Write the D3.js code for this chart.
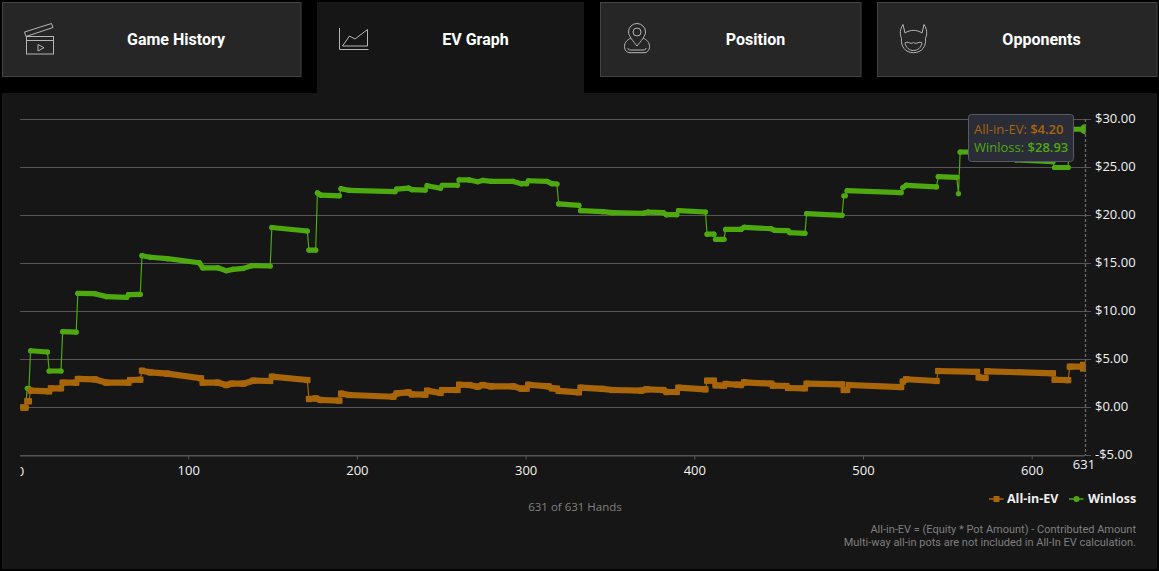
<!DOCTYPE html>
<html>
<head>
<meta charset="utf-8">
<title>EV Graph</title>
<script src="https://cdn.jsdelivr.net/npm/d3@7"></script>
<style>
  html, body { margin: 0; padding: 0; background: #000; overflow: hidden; }
  svg { display: block; }
  text { font-family: "Open Sans", sans-serif; }
  .tab-label { font-family: Roboto, sans-serif; font-weight: 700; font-size: 16px; fill: #fff; text-anchor: middle; }
  .note { font-family: Roboto, sans-serif; font-size: 11px; fill: #7f7f7f; text-anchor: end; }
  .icon { fill: none; stroke: #b5b5b5; stroke-width: 1; }
</style>
</head>
<body>
<script>
const w = 1159;
const h = 571;

const tabNames = ["Game History", "EV Graph", "Position", "Opponents"];
const seriesNames = ["All-in-EV", "Winloss"];
const xTicks = [100, 200, 300, 400, 500, 600];
const yTicks = [-5, 0, 5, 10, 15, 20, 25, 30];
const totalHands = 631;

const winlossHands = [0, 3, 4, 5, 6, 16, 17, 24, 25, 33, 34, 44, 51, 63, 64, 71, 72, 77, 87, 106, 108, 117, 122, 126, 132, 137, 148,
  149, 170, 171, 175, 176, 178, 189, 190, 195, 222, 223, 230, 232, 240, 241, 249, 250, 259, 260, 266, 271, 274, 279, 292, 297, 300,
  301, 312, 315, 318, 319, 331, 332, 345, 351, 369, 372, 381, 383, 389, 390, 406, 407, 411, 412, 417, 418, 427, 429, 445, 447, 455,
  456, 465, 466, 487, 488, 489, 490, 522, 523, 525, 543, 544, 555, 556, 557, 563, 590, 612, 613, 621, 622, 631];
const winlossValues = [0, 0, 1.95, 1.95, 5.86, 5.73, 3.75, 3.75, 7.85, 7.8, 11.84, 11.8, 11.5, 11.42, 11.7, 11.74, 15.76, 15.6, 15.45, 15.03, 14.5, 14.5, 14.2, 14.34, 14.44, 14.72, 14.69,
  18.7, 18.33, 16.35, 16.35, 22.3, 22.08, 22.0, 22.74, 22.57, 22.43, 22.7, 22.8, 22.64, 22.6, 23.05, 22.78, 23.1, 23.1, 23.65, 23.65, 23.47, 23.6, 23.5, 23.5, 23.26, 23.26,
  23.57, 23.5, 23.26, 23.23, 21.15, 21.0, 20.45, 20.35, 20.24, 20.18, 20.3, 20.24, 20.03, 20.03, 20.45, 20.31, 18.0, 18.0, 17.47, 17.47, 18.5, 18.5, 18.72, 18.57, 18.4, 18.37,
  18.16, 18.09, 20.14, 19.97, 22.0, 22.0, 22.53, 22.33, 22.84, 23.09, 22.92, 23.99, 23.92, 22.22, 26.56, 26.56, 25.75, 25.55, 24.95, 24.95, 28.93, 28.93];

const evHands = [0, 3, 4, 5, 6, 17, 18, 24, 25, 33, 34, 44, 51, 64, 65, 71, 72, 77, 87, 107, 108, 117, 122, 125, 132, 138, 148,
  149, 170, 171, 175, 178, 189, 190, 195, 221, 223, 230, 232, 240, 241, 249, 250, 259, 260, 266, 271, 274, 279, 292, 297, 300,
  301, 313, 315, 318, 319, 331, 332, 345, 351, 368, 371, 381, 383, 389, 390, 406, 407, 411, 412, 417, 418, 425, 427, 429, 445, 446, 454,
  455, 465, 466, 487, 488, 490, 491, 522, 523, 525, 543, 544, 567, 568, 572, 573, 612, 613, 621, 622, 631];
const evValues = [-0.07, -0.07, 0.6, 0.6, 1.7, 1.63, 1.95, 1.95, 2.53, 2.53, 2.92, 2.88, 2.53, 2.53, 2.81, 2.84, 3.78, 3.61, 3.47, 2.99, 2.53, 2.53, 2.29, 2.43, 2.43, 2.74, 2.71,
  3.16, 2.81, 0.83, 0.9, 0.73, 0.66, 1.39, 1.25, 1.07, 1.42, 1.53, 1.32, 1.28, 1.7, 1.46, 1.77, 1.77, 2.32, 2.29, 2.11, 2.29, 2.15, 2.15, 1.91, 1.91,
  2.32, 2.15, 1.95, 1.91, 1.67, 1.53, 2.01, 1.88, 1.77, 1.7, 1.84, 1.77, 1.56, 1.56, 2.01, 1.84, 2.74, 2.74, 2.26, 2.22, 2.4, 2.32, 2.29, 2.57, 2.43, 2.22, 2.19,
  1.98, 1.95, 2.43, 2.36, 1.77, 1.77, 2.29, 2.08, 2.64, 2.89, 2.71, 3.75, 3.65, 3.09, 3.02, 3.72, 3.51, 2.84, 2.8, 4.2, 4.2];

const evColor = "#a8650a";
const winColor = "#4ea90f";
const money = v => (v < 0 ? "-$" : "$") + Math.abs(v).toFixed(2);

const svg = d3.select("body").append("svg").attr("width", w).attr("height", h);

// main panel + tabs
svg.append("rect").attr("x", 2).attr("y", 93).attr("width", 1155).attr("height", 476).attr("fill", "#161616");

const tabs = [
  { x: 2, w: 298.5, cx: 176, active: false },
  { x: 317, w: 267, cx: 475.5, active: true },
  { x: 600, w: 260.5, cx: 755.5, active: false },
  { x: 877, w: 279.5, cx: 1041.5, active: false }
];
tabs.forEach((t, i) => {
  svg.append("rect")
    .attr("x", t.active ? t.x : t.x + 0.5).attr("y", t.active ? 2 : 2.5)
    .attr("width", t.w).attr("height", t.active ? 91 : 74)
    .attr("fill", t.active ? "#161616" : "#262626")
    .attr("stroke", t.active ? "none" : "#444");
  svg.append("text").attr("class", "tab-label").attr("x", t.cx).attr("y", 45).text(tabNames[i]);
});

// tab icons
const clapper = svg.append("g").attr("class", "icon");
clapper.append("path").attr("d", "M24.5 32L51.5 23.5L53 27.5L26 36.5Z");
clapper.append("rect").attr("x", 26.5).attr("y", 36.5).attr("width", 27).attr("height", 17.5);
clapper.append("path").attr("d", "M26 40.5H53.5M38 44.5V51L44 47.7Z");

svg.append("path").attr("class", "icon")
  .attr("d", "M339.5 28V49.5H368.5M342.5 46L349.5 36L355 39L367.5 29.5V46Z");

const pin = svg.append("g").attr("class", "icon");
pin.append("path").attr("d", "M637 46C633 41 628.5 36 628.5 32A8.5 8.5 0 0 1 645.5 32C645.5 36 641 41 637 46Z");
pin.append("circle").attr("cx", 637).attr("cy", 32).attr("r", 4);
pin.append("path").attr("d", "M631 38C627 40 624.5 42.5 624.5 46.5C624.5 50.5 627 52.7 630 52.7H644C647 52.7 649.5 50.5 649.5 46.5C649.5 42.5 647 40 643 38");
pin.append("path").attr("d", "M628 48C628 49.5 629 50 630 50H644C645 50 646 49.5 646 48");

const devil = svg.append("g").attr("class", "icon");
devil.append("path").attr("d", "M905 33L903 24.5C900 29 899.5 34 901.5 38.5C900.5 46 905 52.7 913.5 52.7C922 52.7 926.5 46 925.5 38.5C927.5 34 927 29 924 24.5L922 33C917 29.5 910 29.5 905 33Z");
devil.append("path").attr("d", "M905 43C908 40.5 910 45 913.5 42.5C917 45 919 40.5 922 43C921 48 917.5 50.5 913.5 50.5C909.5 50.5 906 48 905 43Z");

// scales
const x = d3.scaleLinear().domain([0, totalHands]).range([20.5, 1085]);
const y = d3.scaleLinear().domain([-5, 30]).range([455, 119]);

const chart = svg.append("g");

// grid and y labels
chart.selectAll(".grid").data(yTicks).enter().append("line")
  .attr("class", "grid")
  .attr("x1", 20).attr("x2", 1091)
  .attr("y1", d => Math.round(y(d)) + 0.5).attr("y2", d => Math.round(y(d)) + 0.5)
  .attr("stroke", "#555");

chart.selectAll(".ylabel").data(yTicks).enter().append("text")
  .attr("x", 1095).attr("y", d => y(d) + 3.5)
  .attr("fill", "#f2f2f2").attr("font-size", "13px")
  .text(money);

// x axis
const xAxis = d3.axisBottom(x).tickValues(xTicks).tickSize(4).tickSizeOuter(0);
const xg = chart.append("g").attr("transform", "translate(-1,455.5)").call(xAxis);
xg.select(".domain").attr("stroke", "#555");
xg.selectAll(".tick line").attr("stroke", "#555");
xg.selectAll(".tick text").attr("fill", "#f2f2f2").attr("font-size", "13px")
  .attr("font-family", "'Open Sans', sans-serif").attr("dy", "0.71em").attr("y", 10);

svg.append("clipPath").attr("id", "zero-clip").append("rect").attr("x", 20.5).attr("y", 455).attr("width", 30).attr("height", 30);
chart.append("text").attr("clip-path", "url(#zero-clip)")
  .attr("x", x(0)).attr("y", 476).attr("text-anchor", "middle")
  .attr("fill", "#f2f2f2").attr("font-size", "13px").text("0");
chart.append("text").attr("x", x(631) - 1).attr("y", 469).attr("text-anchor", "middle")
  .attr("fill", "#f2f2f2").attr("font-size", "13px").text(totalHands);

// series
svg.append("clipPath").attr("id", "plot-clip").append("rect").attr("x", 20.5).attr("y", 100).attr("width", 1065).attr("height", 355);
const plot = chart.append("g").attr("clip-path", "url(#plot-clip)");

function drawSeries(hands, values, color, thick, square) {
  const pts = hands.map((d, i) => [d, values[i]]);
  const line = d3.line().x(d => x(d[0])).y(d => y(d[1]));
  const g = plot.append("g");
  g.append("path").attr("d", line(pts)).attr("fill", "none").attr("stroke", color).attr("stroke-width", 1.2);
  // neighbouring hands sit so close the markers merge into a thick bar
  const runs = d3.pairs(pts).filter(p => p[1][0] - p[0][0] > 1);
  g.selectAll(".run").data(runs).enter().append("path")
    .attr("d", d => line(d)).attr("fill", "none").attr("stroke", color)
    .attr("stroke-width", thick).attr("stroke-linecap", "round");
  if (square) {
    g.selectAll(".mark").data(pts).enter().append("rect")
      .attr("x", d => x(d[0]) - thick / 2).attr("y", d => y(d[1]) - thick / 2)
      .attr("width", thick).attr("height", thick).attr("fill", color);
  } else {
    g.selectAll(".mark").data(pts).enter().append("circle")
      .attr("cx", d => x(d[0])).attr("cy", d => y(d[1])).attr("r", thick / 2).attr("fill", color);
  }
}

drawSeries(winlossHands, winlossValues, winColor, 5.2, false);
drawSeries(evHands, evValues, evColor, 6.2, true);

// hover state at the last hand
const lastWin = winlossValues[winlossValues.length - 1];
const lastEv = evValues[evValues.length - 1];
plot.append("circle").attr("cx", x(totalHands)).attr("cy", y(lastWin)).attr("r", 5).attr("fill", winColor);
plot.append("rect").attr("x", x(totalHands) - 5).attr("y", y(lastEv) - 5).attr("width", 10).attr("height", 10).attr("fill", evColor);

chart.append("line").attr("x1", x(totalHands) + 0.5).attr("x2", x(totalHands) + 0.5).attr("y1", 119).attr("y2", 455)
  .attr("stroke", "#6a6a6a").attr("stroke-width", 1.3).attr("stroke-dasharray", "3,2");

// tooltip
const tip = chart.append("g").attr("transform", "translate(968.5,114.5)");
tip.append("rect").attr("width", 105).attr("height", 47).attr("rx", 3)
  .attr("fill", "#2a2c38").attr("stroke", "#585a64");
const tip1 = tip.append("text").attr("x", 5.5).attr("y", 19.5).attr("font-size", "13px").attr("fill", evColor);
tip1.append("tspan").text(seriesNames[0] + ": ");
tip1.append("tspan").attr("font-weight", 600).text(money(lastEv));
const tip2 = tip.append("text").attr("x", 5.5).attr("y", 37.5).attr("font-size", "13px").attr("fill", winColor);
tip2.append("tspan").text(seriesNames[1] + ": ");
tip2.append("tspan").attr("font-weight", 600).text(money(lastWin));

// legend
const legendX = [989, 1069];
const legendTextX = [1007, 1088];
seriesNames.forEach((name, i) => {
  const color = i === 0 ? evColor : winColor;
  svg.append("line").attr("x1", legendX[i]).attr("x2", legendX[i] + 14.5).attr("y1", 499).attr("y2", 499)
    .attr("stroke", color).attr("stroke-width", 1.5);
  if (i === 0) {
    svg.append("rect").attr("x", legendX[i] + 4.5).attr("y", 496).attr("width", 6).attr("height", 6).attr("fill", color);
  } else {
    svg.append("circle").attr("cx", legendX[i] + 7.5).attr("cy", 499).attr("r", 3).attr("fill", color);
  }
  svg.append("text").attr("x", legendTextX[i]).attr("y", 503)
    .attr("fill", "#f0f0f0").attr("font-size", "12.5px").attr("font-weight", 700).text(name);
});

svg.append("text").attr("x", 575).attr("y", 511).attr("text-anchor", "middle")
  .attr("fill", "#808080").attr("font-size", "11.5px").text(totalHands + " of " + totalHands + " Hands");
svg.append("text").attr("class", "note").attr("x", 1136).attr("y", 533).text("All-in-EV = (Equity * Pot Amount) - Contributed Amount");
svg.append("text").attr("class", "note").attr("x", 1136).attr("y", 546).text("Multi-way all-in pots are not included in All-In EV calculation.");
</script>
</body>
</html>
